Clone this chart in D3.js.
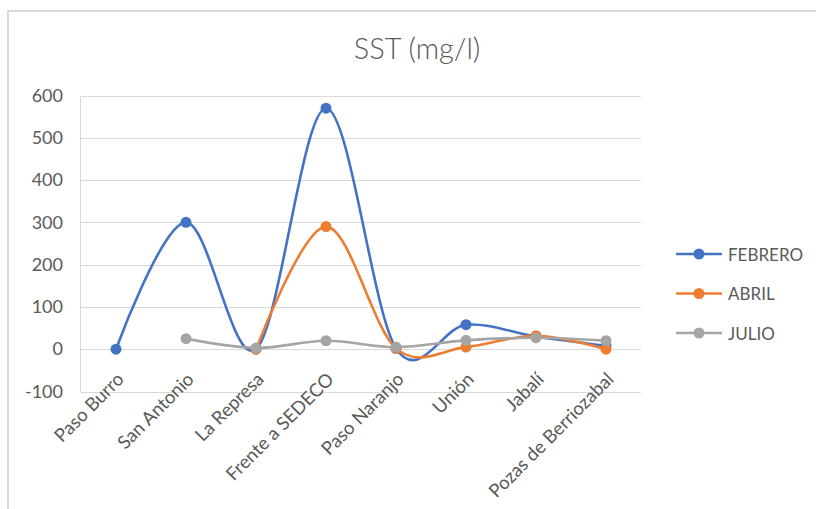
<!DOCTYPE html>
<html><head><meta charset="utf-8">
<script src="https://cdn.jsdelivr.net/npm/d3@7"></script>
<style>body{margin:0;background:#fff}svg{display:block}</style>
</head><body>
<svg id="c" width="816" height="509"></svg>
<script>
const categories = ["Paso Burro","San Antonio","La Represa","Frente a SEDECO","Paso Naranjo","Unión","Jabalí","Pozas de Berriozabal"];
const febrero = [0, 300, 0, 570, 2, 58, 30, 8];
const abril   = [null, null, 0, 290, 2, 5, 32, 0];
const julio   = [null, 25, 3, 20, 5, 21, 27, 20];
const seriesNames = ["FEBRERO","ABRIL","JULIO"];
const colors = ["#4472C4","#ED7D31","#A5A5A5"];
const yTicks = [-100, 0, 100, 200, 300, 400, 500, 600];
const title = "SST (mg/l)";

const font = "Lato, 'Open Sans', sans-serif";
const svg = d3.select("#c");

// chart frame
svg.append("rect").attr("x",8).attr("y",11).attr("width",820).attr("height",520)
  .attr("fill","#fff").attr("stroke","#d9d9d9").attr("stroke-width",2);

const x = d3.scaleBand().domain(categories).range([81, 641]).padding(0);
const y = d3.scaleLinear().domain([-100, 600]).range([391.5, 95.5]);
const cx = d => x(d) + x.bandwidth()/2;

// gridlines
svg.append("g").selectAll("line").data(yTicks).join("line")
  .attr("x1",81).attr("x2",641).attr("y1",d=>Math.round(y(d))+0.5).attr("y2",d=>Math.round(y(d))+0.5)
  .attr("stroke","#d9d9d9").attr("stroke-width",1);
// left axis line
svg.append("line").attr("x1",80.5).attr("x2",80.5).attr("y1",Math.round(y(600))+0.5).attr("y2",Math.round(y(-100))+0.5)
  .attr("stroke","#d9d9d9");

// y labels
const yAxis = d3.axisLeft(y).tickValues(yTicks).tickSize(0).tickPadding(0).tickFormat(d=>String(d));
const yg = svg.append("g").attr("transform","translate(63,0)").call(yAxis);
yg.select(".domain").remove();
yg.selectAll("text").attr("font-family",font).attr("font-size",18).attr("fill","#595959");

// x labels
svg.append("g").selectAll("text").data(categories).join("text")
  .attr("transform",d=>`translate(${cx(d)+4},${y(-100)-16}) rotate(-45)`)
  .attr("text-anchor","end").attr("dominant-baseline","central")
  .attr("font-family",font).attr("font-size",18.5).attr("fill","#595959").text(d=>d);

// title
svg.append("text").attr("x",417).attr("y",59).attr("text-anchor","middle")
  .attr("font-family",font).attr("font-size",29).attr("font-weight",300).attr("fill","#595959").text(title);

const allSeries = [febrero, abril, julio];
const line = d3.line().defined(d=>d.v!==null).x(d=>cx(d.c)).y(d=>y(d.v)).curve(d3.curveCardinal.tension(0));
allSeries.forEach((s,i)=>{
  const pts = categories.map((c,j)=>({c, v:s[j]}));
  const g = svg.append("g");
  g.append("path").attr("d",line(pts)).attr("fill","none").attr("stroke",colors[i])
    .attr("stroke-width",2.6).attr("stroke-linecap","round");
  g.selectAll("circle").data(pts.filter(d=>d.v!==null)).join("circle")
    .attr("cx",d=>cx(d.c)).attr("cy",d=>y(d.v)).attr("r",5.5).attr("fill",colors[i]);
});

// legend
const lg = svg.append("g");
seriesNames.forEach((n,i)=>{
  const yy = 254 + i*39.5;
  lg.append("line").attr("x1",676).attr("x2",722).attr("y1",yy).attr("y2",yy).attr("stroke",colors[i]).attr("stroke-width",2.6);
  lg.append("circle").attr("cx",699).attr("cy",yy).attr("r",5.5).attr("fill",colors[i]);
  lg.append("text").attr("x",728).attr("y",yy).attr("dominant-baseline","central")
    .attr("font-family",font).attr("font-size",17).attr("fill","#595959").text(n);
});
</script>
</body></html>
